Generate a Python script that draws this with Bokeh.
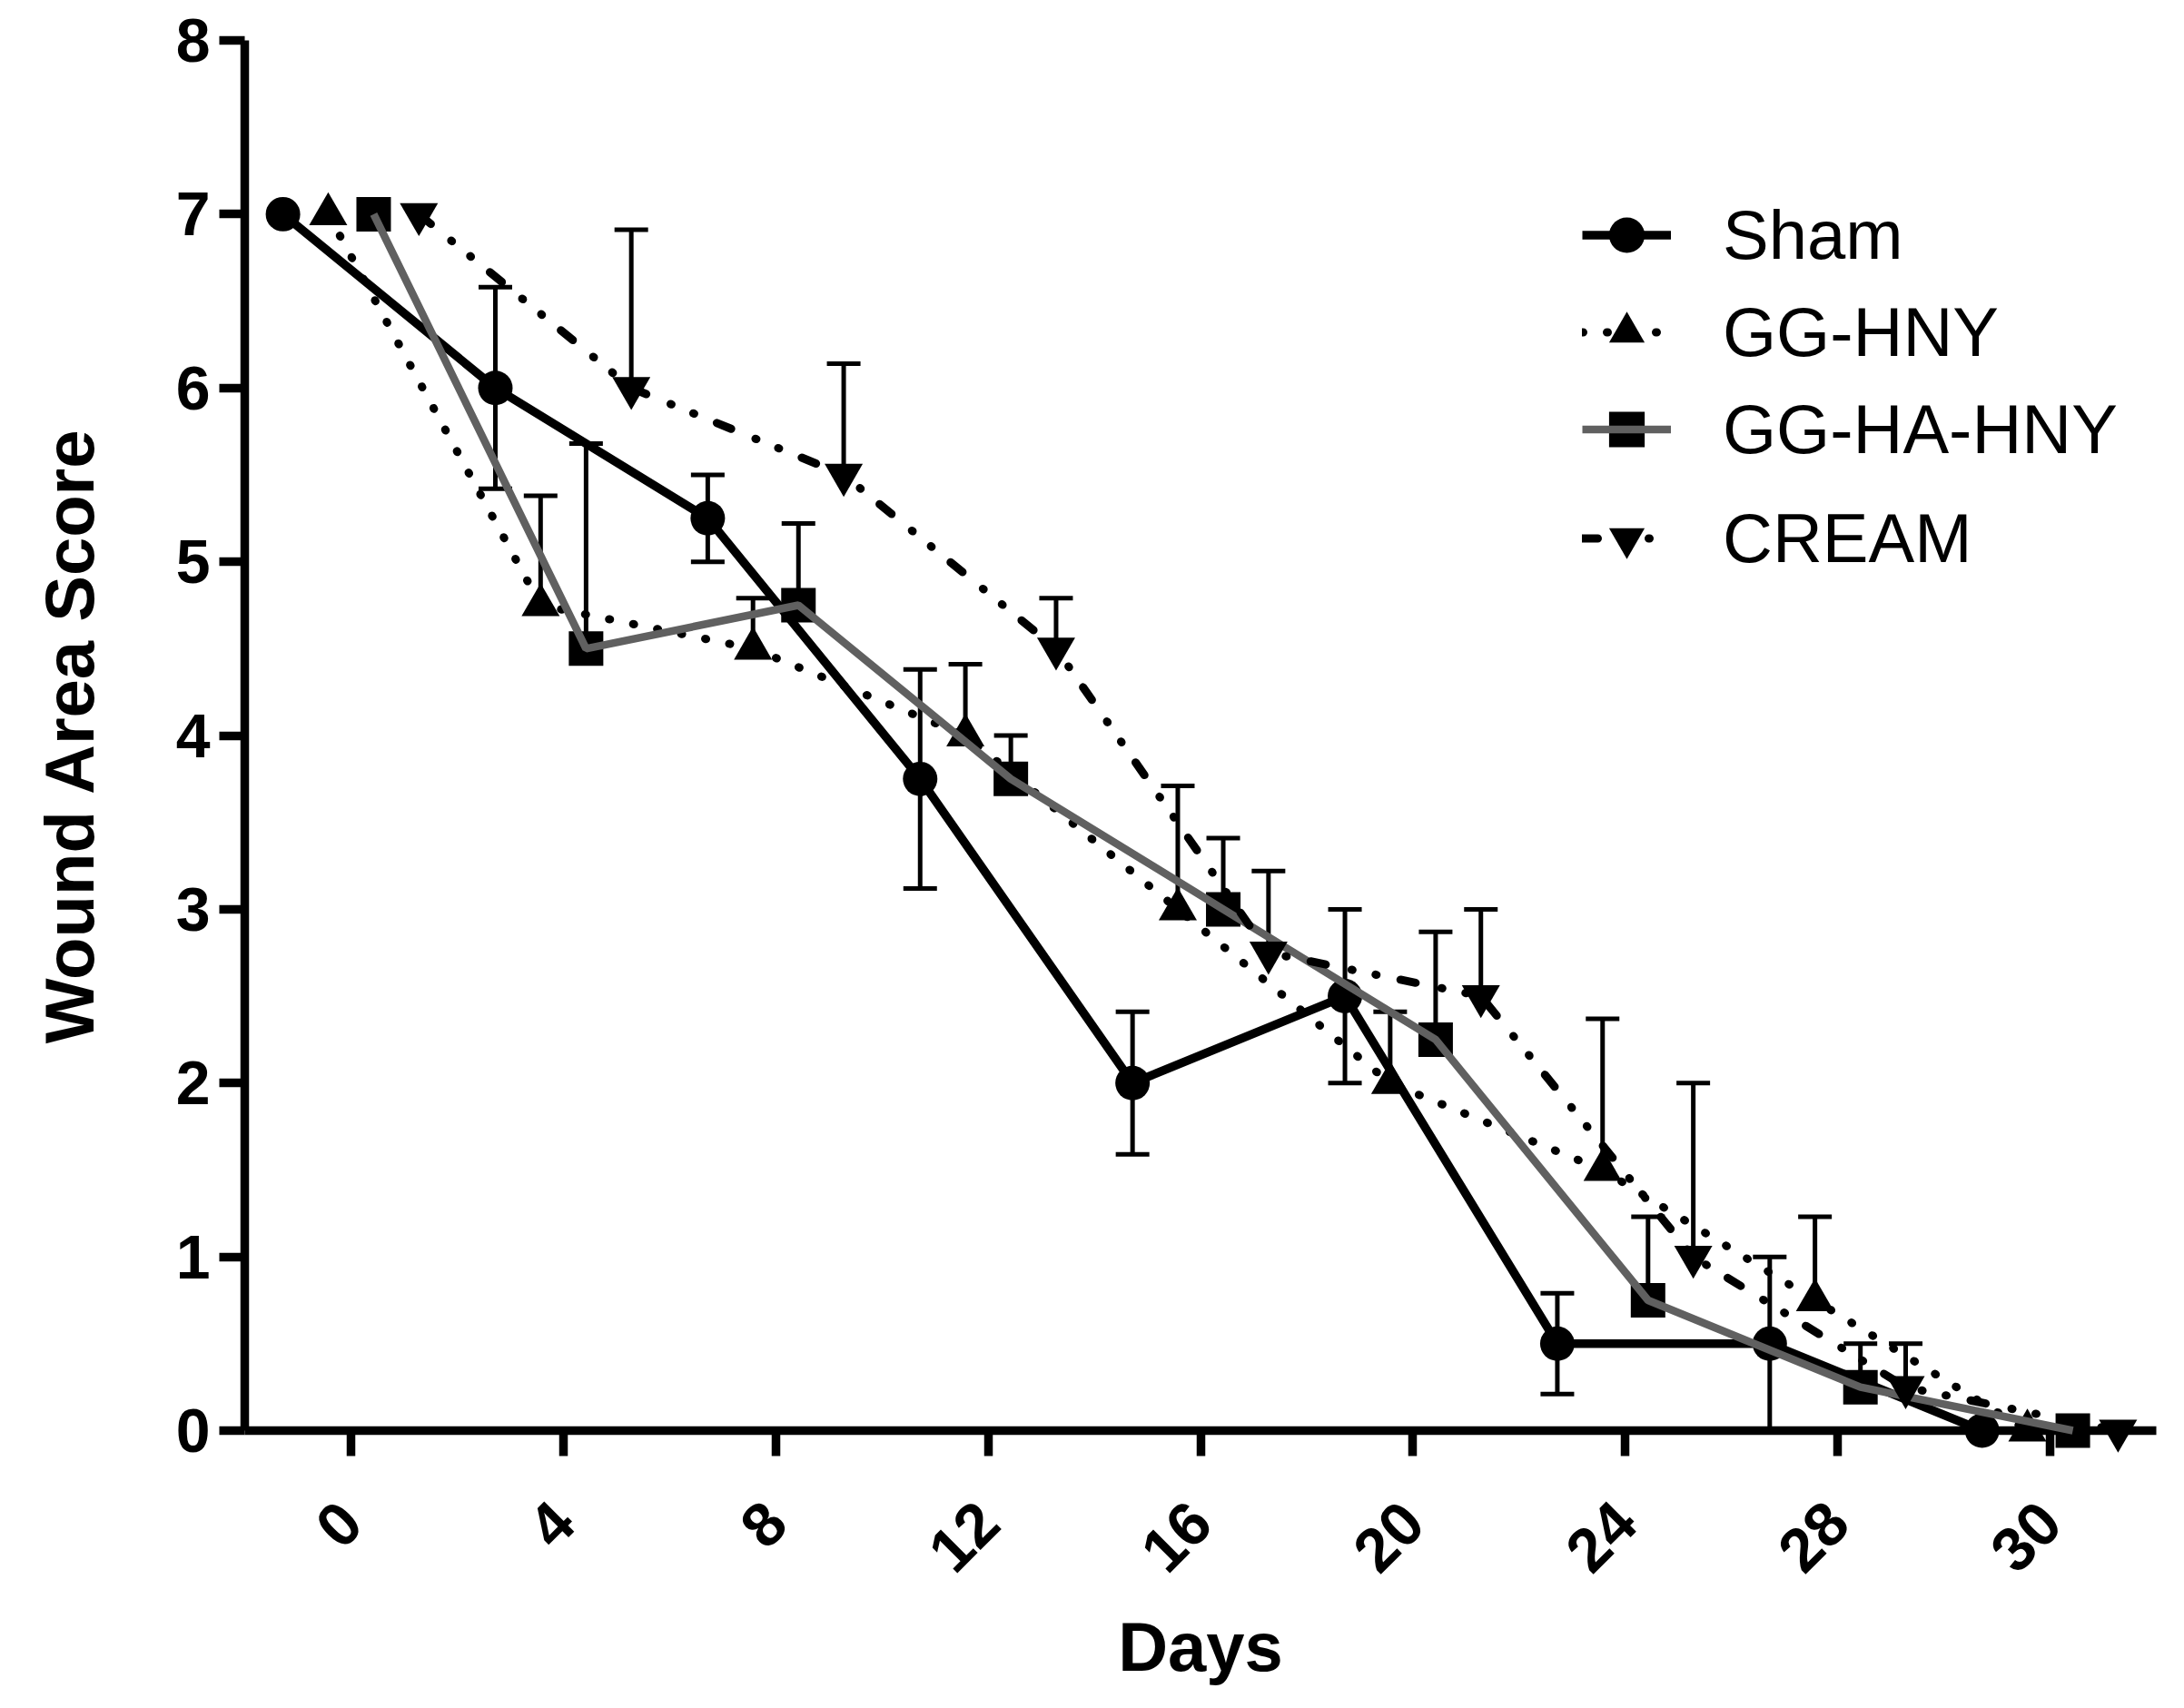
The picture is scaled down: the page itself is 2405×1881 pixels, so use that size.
import math
from bokeh.plotting import figure
from bokeh.models import (ColumnDataSource, FactorRange, Range1d, FixedTicker,
                          Whisker, TeeHead, Legend, LegendItem)
from bokeh.transform import dodge
from bokeh.embed import file_html
from bokeh.resources import INLINE

# ---------------- data ----------------
days = ["0", "4", "8", "12", "16", "20", "24", "28", "30"]
y_ticks = [0, 1, 2, 3, 4, 5, 6, 7, 8]

sham = [7.0, 6.0, 5.25, 3.75, 2.0, 2.5, 0.5, 0.5, 0.0]
sham_err = [0.0, 0.58, 0.25, 0.63, 0.41, 0.5, 0.29, 0.5, 0.0]

gg_hny = [7.0, 4.75, 4.5, 4.0, 3.0, 2.0, 1.5, 0.75, 0.0]
gg_hny_err = [0.0, 0.63, 0.29, 0.41, 0.71, 0.41, 0.87, 0.48, 0.0]

gg_ha_hny = [7.0, 4.5, 4.75, 3.75, 3.0, 2.25, 0.75, 0.25, 0.0]
gg_ha_hny_err = [0.0, 1.18, 0.47, 0.25, 0.41, 0.62, 0.48, 0.25, 0.0]

cream = [7.0, 6.0, 5.5, 4.5, 2.75, 2.5, 1.0, 0.25, 0.0]
cream_err = [0.0, 0.91, 0.64, 0.29, 0.47, 0.5, 1.0, 0.25, 0.0]

FONT = "Liberation Sans"

p = figure(width=2389, height=1865,
           x_range=FactorRange(factors=days, range_padding=0),
           y_range=Range1d(0, 8),
           output_backend="svg", toolbar_location=None,
           min_border_left=269, min_border_top=44,
           min_border_right=15, min_border_bottom=290)
p.outline_line_color = None
p.grid.visible = False
p.background_fill_color = "white"
p.border_fill_color = "white"

# axes
for ax in (p.xaxis[0], p.yaxis[0]):
    ax.axis_line_width = 9.5
    ax.axis_line_color = "black"
    ax.major_tick_line_width = 9.5
    ax.major_tick_line_color = "black"
    ax.major_tick_in = 0
    ax.major_tick_out = 28
    ax.minor_tick_line_color = None
    ax.major_label_text_font = FONT
    ax.major_label_text_font_style = "bold"
    ax.major_label_text_font_size = "68px"
    ax.major_label_text_color = "black"
    ax.axis_label_text_font = FONT
    ax.axis_label_text_font_style = "bold"
    ax.axis_label_text_font_size = "76px"
    ax.axis_label_text_color = "black"

p.yaxis.ticker = FixedTicker(ticks=y_ticks)
p.yaxis.major_label_standoff = 10
p.yaxis.axis_label = "Wound Area Score"
p.yaxis.axis_label_standoff = 72

p.xaxis.major_label_orientation = math.pi / 4
p.xaxis.major_label_standoff = 62
p.xaxis.axis_label = "Days"
p.xaxis.axis_label_standoff = 16

series = [
    ("Sham", sham, sham_err, -0.32, "circle", 38, "solid", 9.5, "black", True),
    ("GG-HNY", gg_hny, gg_hny_err, -0.107, "triangle", 42, "1 26", 9, "black", False),
    ("GG-HA-HNY", gg_ha_hny, gg_ha_hny_err, 0.107, "square", 38, "solid", 8.5, "#606060", False),
    ("CREAM", cream, cream_err, 0.32, "inverted_triangle", 42, "17 29 1 26 1 27", 9, "black", False),
]

legend_items = []
for name, vals, errs, off, marker, msize, dash, lw, lcolor, both in series:
    src = ColumnDataSource(dict(day=days, y=vals))
    xs = dodge("day", off, range=p.x_range)

    # error bars (only where there is an error)
    wd = [d for d, e in zip(days, errs) if e > 0]
    wv = [v for v, e in zip(vals, errs) if e > 0]
    we = [e for e in errs if e > 0]
    wsrc = ColumnDataSource(dict(
        day=wd,
        upper=[v + e for v, e in zip(wv, we)],
        lower=[(v - e) if both else v for v, e in zip(wv, we)],
    ))
    wh = Whisker(base=dodge("day", off, range=p.x_range), upper="upper", lower="lower",
                 source=wsrc, dimension="height", line_width=5, line_color="black",
                 upper_head=TeeHead(size=37, line_width=5, line_color="black"),
                 lower_head=TeeHead(size=37, line_width=5, line_color="black") if both else None)
    p.add_layout(wh)

    sc = p.scatter(x=xs, y="y", source=src, marker=marker, size=msize,
                   fill_color="black", line_color="black", line_width=0, level="overlay")
    ln = p.line(x=xs, y="y", source=src, line_width=lw, line_color=lcolor,
                line_dash=dash, line_cap="round" if dash != "solid" else "butt",
                level="overlay")
    legend_items.append(LegendItem(label=name, renderers=[sc, ln]))

common = dict(orientation="vertical", glyph_width=98, glyph_height=107,
              label_height=107, spacing=0, padding=0, margin=0, label_standoff=57,
              border_line_alpha=0, background_fill_alpha=0,
              label_text_font=FONT, label_text_font_size="76px",
              label_text_color="black")
leg1 = Legend(items=legend_items[:3], location=(1473, 1049), **common)
leg2 = Legend(items=legend_items[3:], location=(1473, 929), **common)
p.add_layout(leg1)
p.add_layout(leg2)

open("out.html", "w").write(file_html(p, INLINE))
